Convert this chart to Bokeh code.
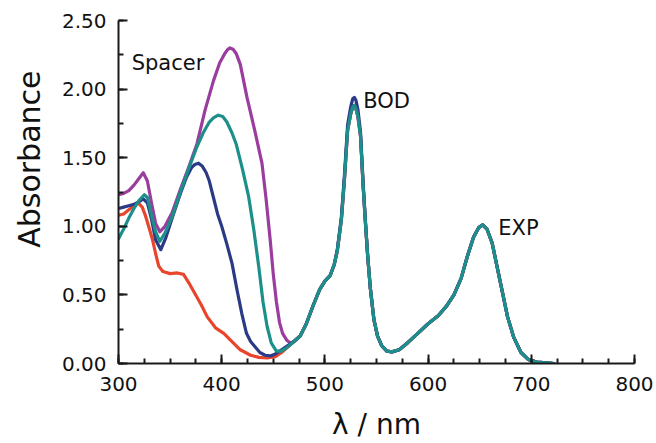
from bokeh.plotting import figure
from bokeh.models import Label, Range1d, SingleIntervalTicker, NumeralTickFormatter, Title
from bokeh.embed import file_html
from bokeh.resources import INLINE

# ---------------- data ----------------
# shared long-wavelength part (BOD + EXP bands), teal trace
tail_wl = [470, 476, 482, 489, 495, 500, 505, 509, 512, 516, 519, 522, 525, 527, 528.5, 530,
           532, 534.5, 537, 539.5, 541.5, 544, 547.5, 551, 555, 560, 565, 572, 580,
           590, 600, 610, 618, 625, 632, 638, 644, 649, 653, 657, 662, 667, 672,
           677, 683, 690, 697, 705, 715, 722]
tail_abs = [0.16, 0.20, 0.29, 0.43, 0.54, 0.60, 0.64, 0.72, 0.82, 1.05, 1.35, 1.70, 1.82, 1.87, 1.88, 1.86,
            1.80, 1.66, 1.30, 1.00, 0.78, 0.55, 0.32, 0.20, 0.13, 0.09, 0.085, 0.10, 0.15,
            0.22, 0.29, 0.35, 0.42, 0.50, 0.62, 0.78, 0.92, 0.99, 1.01, 0.98, 0.88, 0.70, 0.52,
            0.34, 0.19, 0.08, 0.03, 0.01, 0.005, 0.0]
# navy trace differs slightly at the BOD maximum
tail_abs_navy = [0.16, 0.20, 0.29, 0.43, 0.54, 0.60, 0.64, 0.72, 0.83, 1.07, 1.38, 1.74, 1.87, 1.93, 1.94, 1.92,
                 1.85, 1.69, 1.32, 1.01, 0.78, 0.55, 0.32, 0.20, 0.13, 0.09, 0.085, 0.10, 0.15,
                 0.22, 0.29, 0.35, 0.42, 0.50, 0.62, 0.78, 0.92, 0.99, 1.01, 0.98, 0.88, 0.70, 0.52,
                 0.34, 0.19, 0.08, 0.03, 0.01, 0.005, 0.0]

red_wl = [300, 305, 310, 315, 319, 323, 326, 330, 333, 336, 339, 343, 350, 357, 363, 368, 374,
          380, 386, 394, 402, 410, 418, 428, 436, 444, 452, 458, 464]
red_abs = [1.08, 1.09, 1.12, 1.15, 1.17, 1.14, 1.08, 0.98, 0.90, 0.80, 0.71, 0.67, 0.655, 0.66, 0.65, 0.59, 0.51,
           0.43, 0.34, 0.26, 0.22, 0.16, 0.10, 0.06, 0.045, 0.04, 0.05, 0.08, 0.12]

purple_wl = [300, 305, 310, 315, 320, 324, 328, 332, 336, 340, 345, 352, 360, 368, 376,
             384, 392, 398, 403, 406, 408, 411, 414, 418, 424.5, 432, 439, 443, 447, 450, 453, 456, 459, 463, 466.5]
purple_abs = [1.23, 1.24, 1.26, 1.30, 1.35, 1.39, 1.33, 1.17, 1.02, 0.96, 1.00, 1.10, 1.27, 1.43, 1.60,
              1.85, 2.06, 2.19, 2.26, 2.29, 2.30, 2.29, 2.26, 2.18, 1.94, 1.70, 1.46, 1.20, 0.90, 0.65, 0.45,
              0.30, 0.22, 0.17, 0.15]

navy_wl = [300, 305, 310, 315, 320, 324, 328, 332, 336, 341, 346, 352, 360, 366, 371, 374,
           377.5, 381, 385, 388, 392, 396, 400, 405, 410, 415, 419.6, 424, 428, 432.5, 437,
           442, 447, 452, 458, 464]
navy_abs = [1.13, 1.14, 1.15, 1.16, 1.18, 1.20, 1.17, 1.05, 0.90, 0.83, 0.92, 1.06, 1.24, 1.36, 1.43, 1.45,
            1.46, 1.44, 1.39, 1.33, 1.21, 1.09, 1.00, 0.87, 0.73, 0.53, 0.36, 0.22, 0.16, 0.12, 0.08,
            0.06, 0.055, 0.07, 0.10, 0.13]

teal_wl = [300, 305, 310, 315, 320, 325, 328, 332, 336, 340, 345, 352, 360, 368, 376,
           382, 388, 392, 396.6, 401, 405, 410, 414, 420, 426, 431, 436, 440, 444, 448, 453, 458, 464]
teal_abs = [0.91, 0.98, 1.06, 1.13, 1.19, 1.23, 1.21, 1.08, 0.96, 0.89, 0.95, 1.07, 1.25, 1.42, 1.58,
            1.68, 1.76, 1.79, 1.81, 1.80, 1.76, 1.68, 1.60, 1.42, 1.22, 0.98, 0.70, 0.45, 0.27, 0.15, 0.09, 0.09, 0.12]

x_ticks = [300, 400, 500, 600, 700, 800]
y_ticks = [0.0, 0.5, 1.0, 1.5, 2.0, 2.5]

annotations = [("Spacer", 312.8, 2.19), ("BOD", 537.2, 1.91), ("EXP", 668.0, 0.985)]

# ---------------- figure ----------------
p = figure(width=656, height=443, output_backend="svg", toolbar_location=None,
           x_range=Range1d(300, 800), y_range=Range1d(0, 2.5),
           min_border_left=118, min_border_right=22, min_border_top=20, min_border_bottom=80)
p.outline_line_color = None
p.xgrid.visible = False
p.ygrid.visible = False
p.background_fill_color = "white"

series = [
    (red_wl + tail_wl, red_abs + tail_abs, "#e8452c"),
    (purple_wl + tail_wl, purple_abs + tail_abs, "#9a3d9e"),
    (navy_wl + tail_wl, navy_abs + tail_abs_navy, "#2c3a86"),
    (teal_wl + tail_wl, teal_abs + tail_abs, "#1d8f8a"),
]
for xs, ys, c in series:
    p.line(xs, ys, line_color=c, line_width=3.2, line_join="round", line_cap="round")

font = "DejaVu Sans"
for ax, ticks, minor in ((p.xaxis[0], x_ticks, 4), (p.yaxis[0], y_ticks, 2)):
    ax.ticker = SingleIntervalTicker(interval=ticks[1] - ticks[0], num_minor_ticks=minor)
    ax.axis_line_color = "#1a1a1a"
    ax.axis_line_width = 2
    ax.major_tick_line_color = "#1a1a1a"
    ax.major_tick_line_width = 2
    ax.minor_tick_line_color = "#1a1a1a"
    ax.minor_tick_line_width = 2
    ax.major_tick_in = 9
    ax.major_tick_out = 0
    ax.minor_tick_in = 5
    ax.minor_tick_out = 0
    ax.major_label_text_font = font
    ax.major_label_text_font_size = "20px"
    ax.major_label_text_color = "#111111"

p.yaxis[0].formatter = NumeralTickFormatter(format="0.00")
p.yaxis[0].major_label_standoff = 12
p.xaxis[0].major_label_standoff = 13
# empty spacer label pushes the x title a little lower
p.xaxis[0].axis_label = " "
p.xaxis[0].axis_label_text_font_size = "1px"
p.xaxis[0].axis_label_standoff = 9

for txt, x, y in annotations:
    p.add_layout(Label(x=x, y=y, text=txt, text_font=font, text_font_size="21px",
                       text_color="#111111", text_baseline="alphabetic", text_align="left"))

# axis titles as side titles (positioned along the side)
p.add_layout(Title(text="Absorbance", align="right", offset=50, vertical_align="top",
                   standoff=20, text_font=font, text_font_size="30px",
                   text_font_style="normal", text_color="#111111"), "left")
p.add_layout(Title(text="λ / nm", align="center", vertical_align="top",
                   standoff=2, text_font=font, text_font_size="28px",
                   text_font_style="normal", text_color="#111111"), "below")

open("out.html", "w").write(file_html(p, INLINE))
